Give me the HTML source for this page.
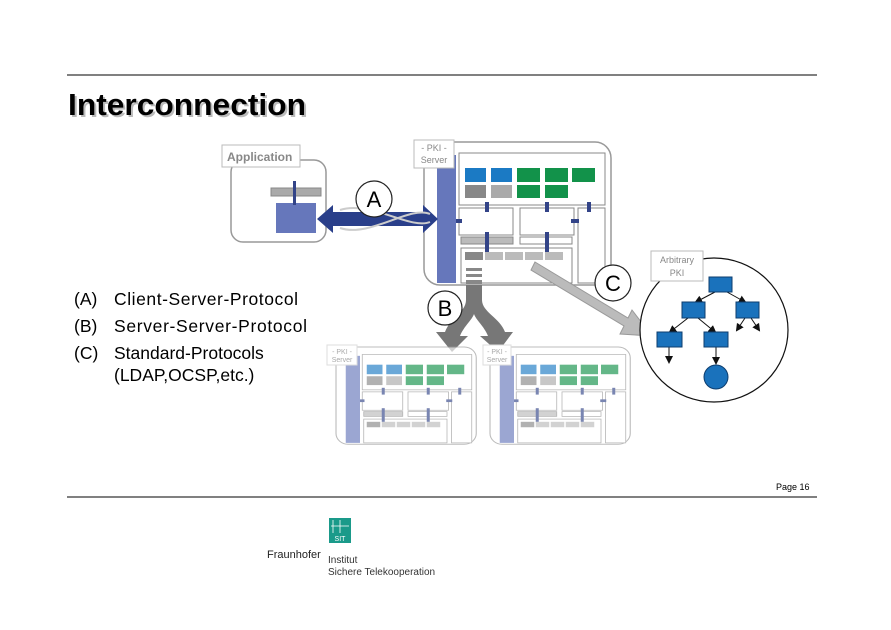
<!DOCTYPE html>
<html><head><meta charset="utf-8"><style>
html,body{margin:0;padding:0;background:#fff;}
svg{display:block;font-family:"Liberation Sans",sans-serif;}
</style></head><body>
<svg width="891" height="630" viewBox="0 0 891 630" xmlns="http://www.w3.org/2000/svg">
<defs>
<marker id="ah" markerWidth="8" markerHeight="8" refX="6" refY="4" orient="auto" markerUnits="userSpaceOnUse"><path d="M0,0 L8,4 L0,8 z" fill="#111"/></marker>
<g id="srv">
  <rect x="0" y="0" width="187" height="143" rx="16" fill="#fff" stroke="#999" stroke-width="1.5"/>
  <rect x="13" y="13" width="19" height="128" fill="#6677bb"/>
  <rect x="35" y="11" width="146" height="52" fill="#fff" stroke="#888"/>
  <rect x="41" y="26" width="21" height="14" fill="#1b7ac4"/>
  <rect x="67" y="26" width="21" height="14" fill="#1b7ac4"/>
  <rect x="93" y="26" width="23" height="14" fill="#12924a"/>
  <rect x="121" y="26" width="23" height="14" fill="#12924a"/>
  <rect x="148" y="26" width="23" height="14" fill="#12924a"/>
  <rect x="41" y="43" width="21" height="13" fill="#888"/>
  <rect x="67" y="43" width="21" height="13" fill="#aaa"/>
  <rect x="93" y="43" width="23" height="13" fill="#12924a"/>
  <rect x="121" y="43" width="23" height="13" fill="#12924a"/>
  <rect x="35" y="66" width="54" height="27" fill="#fff" stroke="#888"/>
  <rect x="96" y="66" width="54" height="27" fill="#fff" stroke="#888"/>
  <rect x="154" y="66" width="27" height="75" fill="#fff" stroke="#888"/>
  <rect x="37" y="95" width="52" height="7" fill="#bbb" stroke="#888"/>
  <rect x="96" y="95" width="52" height="7" fill="#fff" stroke="#888"/>
  <rect x="37" y="106" width="111" height="35" fill="#fff" stroke="#888"/>
  <rect x="41" y="110" width="18" height="8" fill="#888"/>
  <rect x="61" y="110" width="18" height="8" fill="#bbb"/>
  <rect x="81" y="110" width="18" height="8" fill="#bbb"/>
  <rect x="101" y="110" width="18" height="8" fill="#bbb"/>
  <rect x="121" y="110" width="18" height="8" fill="#bbb"/>
  <g fill="#334488">
    <rect x="61" y="60" width="4" height="10"/><rect x="121" y="60" width="4" height="10"/><rect x="163" y="60" width="4" height="10"/>
    <rect x="32" y="77" width="6" height="4"/><rect x="147" y="77" width="8" height="4"/>
    <rect x="61" y="90" width="4" height="20"/><rect x="121" y="90" width="4" height="20"/>
  </g>
</g>
</defs>

<line x1="67" y1="75" x2="817" y2="75" stroke="#000" stroke-width="1"/>
<text x="70" y="117" font-size="31" font-weight="bold" fill="#bbb" textLength="238" lengthAdjust="spacingAndGlyphs">Interconnection</text>
<text x="68" y="115" font-size="31" font-weight="bold" fill="#000" textLength="238" lengthAdjust="spacingAndGlyphs">Interconnection</text>

<!-- Application -->
<rect x="231" y="160" width="95" height="82" rx="12" fill="#fff" stroke="#999" stroke-width="1.5"/>
<rect x="222" y="145" width="78" height="22" fill="#fff" stroke="#bbb"/>
<text x="227" y="161" font-size="12" font-weight="bold" fill="#888">Application</text>
<rect x="271" y="188" width="50" height="8" fill="#aaa" stroke="#888"/>
<rect x="276" y="203" width="40" height="30" fill="#6677bb"/>
<rect x="293" y="181" width="3" height="24" fill="#334488"/>

<!-- Main server -->
<use href="#srv" transform="translate(424,142)"/>
<rect x="414" y="140" width="40" height="28" fill="#fff" stroke="#bbb"/>
<text x="434" y="151" font-size="9" fill="#888" text-anchor="middle">- PKI -</text>
<text x="434" y="163" font-size="9" fill="#888" text-anchor="middle">Server</text>
<g fill="#888"><rect x="466" y="268" width="16" height="3"/><rect x="466" y="274" width="16" height="3"/><rect x="466" y="280" width="16" height="4"/></g>

<!-- Arrow A -->
<path d="M317,219 L333,205 L333,212 L423,212 L423,205 L438,219 L423,233 L423,226 L333,226 L333,233 Z" fill="#2a3f8a"/>
<path d="M340,210 C370,200 410,230 430,222 M340,228 C370,238 410,205 430,214" stroke="#ccc" stroke-width="2" fill="none"/>
<circle cx="374" cy="199" r="18" fill="#fff" stroke="#222" stroke-width="1.2"/>
<text x="374" y="207" font-size="22" text-anchor="middle">A</text>

<!-- Arrow C -->
<path d="M535,262 L628,318 L632,310 L652,336 L620,334 L624,326 L531,270 Z" fill="#bbb" stroke="#999"/>
<circle cx="613" cy="283" r="18" fill="#fff" stroke="#222" stroke-width="1.2"/>
<text x="613" y="291" font-size="22" text-anchor="middle">C</text>

<!-- Arrow B -->
<path d="M466,285 L482,285 L482,300 C482,312 500,318 505,332 L513,332 L498,352 L480,336 L488,336 C484,326 476,320 474,314 C472,320 464,326 460,336 L468,336 L452,352 L436,332 L445,332 C450,318 466,312 466,300 Z" fill="#777"/>
<circle cx="445" cy="308" r="17" fill="#fff" stroke="#222" stroke-width="1.2"/>
<text x="445" y="316" font-size="22" text-anchor="middle">B</text>

<!-- Lower servers -->
<g opacity="0.65">
<use href="#srv" transform="translate(336,347) scale(0.75,0.68)"/>
<use href="#srv" transform="translate(490,347) scale(0.75,0.68)"/>
</g>
<rect x="327" y="345" width="30" height="20" fill="#fff" stroke="#ddd"/>
<text x="342" y="354" font-size="7" fill="#aaa" text-anchor="middle">- PKI -</text>
<text x="342" y="362" font-size="7" fill="#aaa" text-anchor="middle">Server</text>
<rect x="483" y="345" width="28" height="20" fill="#fff" stroke="#ddd"/>
<text x="497" y="354" font-size="7" fill="#aaa" text-anchor="middle">- PKI -</text>
<text x="497" y="362" font-size="7" fill="#aaa" text-anchor="middle">Server</text>

<!-- Arbitrary PKI -->
<ellipse cx="714" cy="330" rx="74" ry="72" fill="#fff" stroke="#111" stroke-width="1.2"/>
<rect x="651" y="251" width="52" height="30" fill="#fff" stroke="#bbb"/>
<text x="677" y="263" font-size="9" fill="#888" text-anchor="middle">Arbitrary</text>
<text x="677" y="276" font-size="9" fill="#888" text-anchor="middle">PKI</text>
<g stroke="#111" stroke-width="1" marker-end="url(#ah)">
<line x1="715" y1="292" x2="696" y2="302"/><line x1="727" y1="292" x2="745" y2="302"/>
<line x1="688" y1="318" x2="670" y2="332"/><line x1="698" y1="318" x2="715" y2="332"/>
<line x1="745" y1="318" x2="737" y2="330"/><line x1="751" y1="318" x2="759" y2="330"/>
<line x1="669" y1="347" x2="669" y2="362"/><line x1="716" y1="347" x2="716" y2="363"/>
</g>
<g fill="#1a72bc" stroke="#0d3d6e">
<rect x="709" y="277" width="23" height="15"/>
<rect x="682" y="302" width="23" height="16"/>
<rect x="736" y="302" width="23" height="16"/>
<rect x="657" y="332" width="25" height="15"/>
<rect x="704" y="332" width="24" height="15"/>
<circle cx="716" cy="377" r="12"/>
</g>

<!-- List -->
<g font-size="17.5" fill="#000">
<text x="74" y="305">(A)</text><text x="114" y="305" textLength="184">Client-Server-Protocol</text>
<text x="74" y="332">(B)</text><text x="114" y="332" textLength="193">Server-Server-Protocol</text>
<text x="74" y="359">(C)</text><text x="114" y="359">Standard-Protocols</text>
<text x="114" y="381">(LDAP,OCSP,etc.)</text>
</g>

<text x="776" y="490" font-size="9">Page 16</text>
<line x1="67" y1="497" x2="817" y2="497" stroke="#000" stroke-width="1"/>

<!-- Logo -->
<rect x="329" y="518" width="22" height="25" fill="#1a9a8a"/>
<g stroke="#fff" stroke-width="0.8"><line x1="333" y1="520" x2="333" y2="533"/><line x1="340" y1="520" x2="340" y2="533"/><line x1="331" y1="526" x2="349" y2="526"/></g>
<text x="340" y="541" font-size="7" fill="#fff" text-anchor="middle">SIT</text>
<text x="267" y="558" font-size="11" fill="#222">Fraunhofer</text>
<text x="328" y="563" font-size="10" fill="#333">Institut</text>
<text x="328" y="575" font-size="10" fill="#333">Sichere Telekooperation</text>
</svg>
</body></html>
